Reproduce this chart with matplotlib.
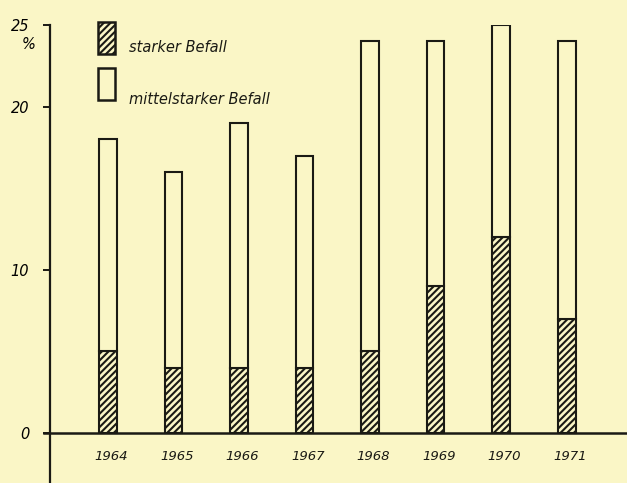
import matplotlib.pyplot as plt
from matplotlib.patches import Rectangle
from matplotlib import font_manager

years = ["1964", "1965", "1966", "1967", "1968", "1969", "1970", "1971"]
total = [18, 16, 19, 17, 24, 24, 25, 24]        # starker + mittelstarker Befall, %
strong = [5, 4, 4, 4, 5, 9, 12, 7]              # starker Befall, %
medium = [t - s for t, s in zip(total, strong)]

BG = "#faf6c6"
INK = "#1a1a14"

names = {f.name for f in font_manager.fontManager.ttflist}
family = "Liberation Sans Narrow" if "Liberation Sans Narrow" in names else "DejaVu Sans"
plt.rcParams.update({
    "font.family": [family, "DejaVu Sans"],
    "font.style": "italic",
    "hatch.linewidth": 1.5,
    "hatch.color": INK,
})

fig = plt.figure(figsize=(6.27, 4.83), dpi=100, facecolor=BG)
ax = fig.add_axes([50 / 627, 0, 1 - 50 / 627, 458 / 483])
ax.set_facecolor(BG)

x = list(range(len(years)))
ax.bar(x, strong, width=0.27, color=BG, edgecolor=INK, hatch="/////", lw=1.5)
ax.bar(x, medium, bottom=strong, width=0.27, color=BG, edgecolor=INK, lw=1.5)

ax.set_xlim(-0.885, 7.92)
ax.set_ylim(-3.07, 25)

for s in ["top", "right", "bottom"]:
    ax.spines[s].set_visible(False)
ax.spines["left"].set_linewidth(1.6)
ax.spines["left"].set_color(INK)
ax.axhline(0, xmin=-0.01, xmax=1, color=INK, lw=1.8, clip_on=False)

ax.set_xticks([])
ax.set_yticks([0, 10, 20, 25])
ax.set_yticklabels(["0", "10", "20", "25"])
ax.tick_params(axis="y", length=5, width=1.4, color=INK, labelsize=10.5, pad=10)

ax.text(-1.11, 23.8, "%", ha="right", va="center", fontsize=10.5, clip_on=False)

for xi, yr in zip(x, years):
    ax.text(xi + 0.05, -1.47, yr, ha="center", va="center", fontsize=9.5, color=INK)

# legend
ax.add_patch(Rectangle((-0.153, 23.25), 0.26, 1.95, facecolor=BG, edgecolor=INK,
                       hatch="/////", lw=1.8, clip_on=False))
ax.add_patch(Rectangle((-0.153, 20.4), 0.26, 1.95, facecolor=BG, edgecolor=INK,
                       lw=1.8, clip_on=False))
ax.text(0.32, 23.6, "starker Befall", fontsize=10.5, va="center", color=INK)
ax.text(0.32, 20.45, "mittelstarker Befall", fontsize=10.5, va="center", color=INK)

fig.savefig("out.png", dpi=100, facecolor=BG)
